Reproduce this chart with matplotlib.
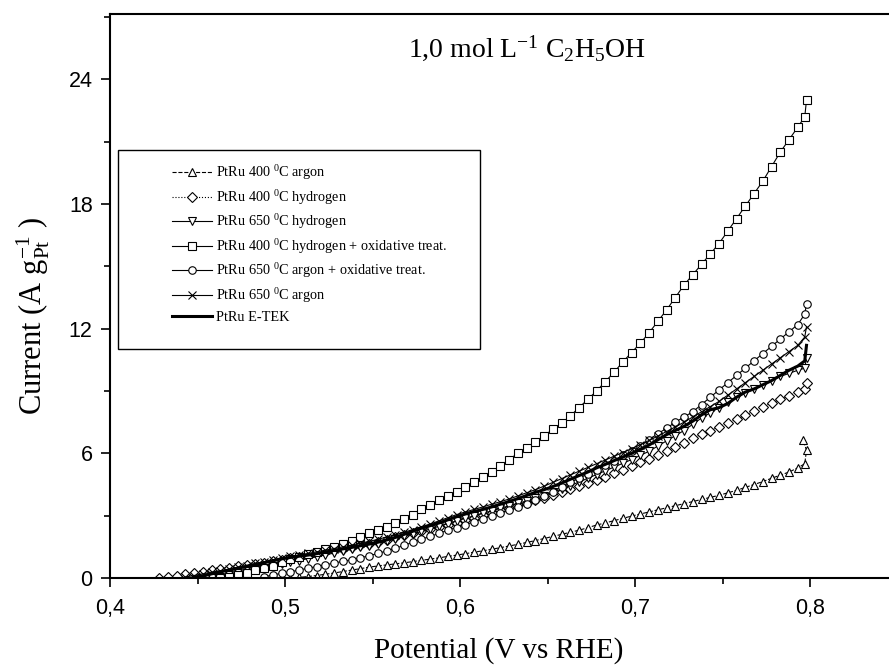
import numpy as np
import matplotlib
matplotlib.use('Agg')
import matplotlib.pyplot as plt
from matplotlib.patches import Rectangle
from matplotlib.ticker import MultipleLocator, FuncFormatter

nan = np.nan

# --- data (potential in V vs RHE, current in A/g_Pt) ---
# last three potentials are the end-of-scan points
potential = [
    0.428, 0.433, 0.438, 0.443, 0.448, 0.453, 0.458, 0.463, 0.468, 0.473,
    0.478, 0.483, 0.488, 0.493, 0.498, 0.503, 0.508, 0.513, 0.518, 0.523,
    0.528, 0.533, 0.538, 0.543, 0.548, 0.553, 0.558, 0.563, 0.568, 0.573,
    0.578, 0.583, 0.588, 0.593, 0.598, 0.603, 0.608, 0.613, 0.618, 0.623,
    0.628, 0.633, 0.638, 0.643, 0.648, 0.653, 0.658, 0.663, 0.668, 0.673,
    0.678, 0.683, 0.688, 0.693, 0.698, 0.703, 0.708, 0.713, 0.718, 0.723,
    0.728, 0.733, 0.738, 0.743, 0.748, 0.753, 0.758, 0.763, 0.768, 0.773,
    0.778, 0.783, 0.788, 0.793, 0.797, 0.798, 0.796]

i_400_argon = [
    nan, nan, nan, nan, nan, nan, nan, nan, nan, nan,
    nan, nan, nan, nan, nan, 0.0, 0.03, 0.07, 0.12, 0.18,
    0.24, 0.31, 0.38, 0.45, 0.52, 0.58, 0.63, 0.68, 0.73, 0.79,
    0.85, 0.91, 0.97, 1.04, 1.1, 1.17, 1.24, 1.31, 1.38, 1.46,
    1.54, 1.62, 1.71, 1.8, 1.9, 2.0, 2.1, 2.2, 2.3, 2.42,
    2.55, 2.65, 2.76, 2.87, 2.98, 3.08, 3.18, 3.28, 3.38, 3.48,
    3.58, 3.68, 3.78, 3.88, 3.98, 4.1, 4.22, 4.36, 4.5, 4.64,
    4.8, 4.95, 5.1, 5.3, 5.5, 6.15, 6.65]

i_400_hydrogen = [
    0.0, 0.05, 0.12, 0.18, 0.25, 0.31, 0.38, 0.44, 0.5, 0.56,
    0.62, 0.68, 0.74, 0.8, 0.87, 0.94, 1.02, 1.1, 1.18, 1.26,
    1.34, 1.42, 1.5, 1.58, 1.66, 1.75, 1.85, 1.95, 2.05, 2.15,
    2.25, 2.35, 2.45, 2.56, 2.67, 2.79, 2.91, 3.03, 3.15, 3.27,
    3.39, 3.51, 3.63, 3.75, 3.87, 4.0, 4.13, 4.27, 4.42, 4.57,
    4.72, 4.88, 5.04, 5.2, 5.38, 5.56, 5.74, 5.92, 6.12, 6.32,
    6.52, 6.72, 6.92, 7.1, 7.28, 7.46, 7.64, 7.84, 8.04, 8.24,
    8.42, 8.6, 8.78, 8.95, 9.1, 9.4, nan]

i_650_hydrogen = [
    nan, nan, nan, nan, nan, nan, 0.0, 0.07, 0.15, 0.23,
    0.32, 0.41, 0.5, 0.58, 0.67, 0.75, 0.84, 0.93, 1.02, 1.11,
    1.2, 1.29, 1.38, 1.47, 1.56, 1.66, 1.77, 1.88, 2.0, 2.12,
    2.24, 2.36, 2.49, 2.62, 2.75, 2.87, 2.99, 3.11, 3.23, 3.35,
    3.47, 3.59, 3.71, 3.84, 3.97, 4.12, 4.28, 4.45, 4.62, 4.8,
    4.98, 5.16, 5.34, 5.52, 5.7, 5.9, 6.1, 6.35, 6.6, 6.85,
    7.1, 7.4, 7.7, 7.95, 8.2, 8.45, 8.7, 8.9, 9.1, 9.3,
    9.5, 9.7, 9.85, 10.0, 10.1, 10.6, nan]

i_400_hydrogen_ox = [
    nan, nan, nan, nan, nan, nan, nan, 0.0, 0.05, 0.15,
    0.25, 0.4, 0.5, 0.6, 0.75, 0.9, 1.0, 1.15, 1.25, 1.4,
    1.5, 1.65, 1.8, 1.95, 2.15, 2.3, 2.45, 2.65, 2.85, 3.05,
    3.3, 3.5, 3.75, 3.95, 4.15, 4.4, 4.6, 4.85, 5.1, 5.4,
    5.7, 6.0, 6.25, 6.55, 6.85, 7.15, 7.45, 7.8, 8.2, 8.6,
    9.0, 9.45, 9.9, 10.4, 10.85, 11.3, 11.8, 12.35, 12.9, 13.5,
    14.1, 14.6, 15.1, 15.6, 16.1, 16.7, 17.3, 17.9, 18.5, 19.1,
    19.8, 20.5, 21.1, 21.7, 22.2, 23.0, nan]

i_650_argon_ox = [
    nan, nan, nan, nan, nan, nan, nan, nan, nan, nan,
    nan, nan, 0.05, 0.15, 0.22, 0.3, 0.38, 0.47, 0.55, 0.63,
    0.72, 0.8, 0.88, 0.97, 1.07, 1.18, 1.3, 1.43, 1.57, 1.72,
    1.87, 2.0, 2.15, 2.3, 2.43, 2.57, 2.7, 2.85, 3.0, 3.12,
    3.25, 3.4, 3.55, 3.75, 3.95, 4.15, 4.4, 4.6, 4.8, 5.0,
    5.2, 5.45, 5.65, 5.9, 6.1, 6.35, 6.65, 6.95, 7.2, 7.5,
    7.75, 8.0, 8.35, 8.7, 9.05, 9.4, 9.75, 10.1, 10.45, 10.8,
    11.15, 11.5, 11.85, 12.2, 12.7, 13.2, nan]

i_650_argon = [
    nan, nan, nan, 0.05, 0.12, 0.2, 0.28, 0.35, 0.43, 0.52,
    0.6, 0.7, 0.78, 0.87, 0.96, 1.04, 1.11, 1.18, 1.26, 1.34,
    1.42, 1.5, 1.58, 1.67, 1.76, 1.86, 1.97, 2.08, 2.2, 2.33,
    2.47, 2.6, 2.75, 2.9, 3.05, 3.18, 3.3, 3.42, 3.55, 3.67,
    3.8, 3.95, 4.1, 4.25, 4.42, 4.6, 4.78, 4.96, 5.14, 5.32,
    5.5, 5.68, 5.86, 6.04, 6.22, 6.42, 6.62, 6.83, 7.05, 7.27,
    7.5, 7.75, 8.0, 8.25, 8.5, 8.8, 9.1, 9.4, 9.7, 10.0,
    10.3, 10.6, 10.9, 11.2, 11.6, 12.1, nan]

i_etek = [
    nan, nan, nan, nan, 0.03, 0.1, 0.2, 0.3, 0.38, 0.47,
    0.56, 0.65, 0.74, 0.83, 0.92, 0.99, 1.05, 1.1, 1.17, 1.25,
    1.33, 1.4, 1.47, 1.55, 1.63, 1.72, 1.83, 1.95, 2.1, 2.25,
    2.4, 2.52, 2.65, 2.8, 2.95, 3.08, 3.2, 3.3, 3.42, 3.55,
    3.68, 3.82, 3.97, 4.12, 4.25, 4.4, 4.57, 4.75, 4.93, 5.1,
    5.3, 5.47, 5.65, 5.82, 6.0, 6.2, 6.4, 6.65, 6.9, 7.1,
    7.3, 7.55, 7.85, 8.1, 8.2, 8.4, 8.7, 8.95, 9.1, 9.3,
    9.5, 9.75, 10.0, 10.2, 10.45, 11.2, nan]

labels = [
    'PtRu 400 $^{0}$C argon',
    'PtRu 400 $^{0}$C hydrogen',
    'PtRu 650 $^{0}$C hydrogen',
    'PtRu 400 $^{0}$C hydrogen + oxidative treat.',
    'PtRu 650 $^{0}$C argon + oxidative treat.',
    'PtRu 650 $^{0}$C argon',
    'PtRu E-TEK',
]

# --- fonts ---
plt.rcParams['font.family'] = 'Liberation Sans'
plt.rcParams['mathtext.fontset'] = 'custom'
plt.rcParams['mathtext.rm'] = 'Liberation Serif'
plt.rcParams['mathtext.it'] = 'Liberation Serif:italic'
plt.rcParams['mathtext.bf'] = 'Liberation Serif:bold'
SERIF = 'Liberation Serif'

fig = plt.figure(figsize=(8.89, 6.68), dpi=100)
ax = fig.add_axes([110 / 889, 90 / 668, 787.5 / 889, 564 / 668])

V = np.array(potential)
mk = dict(color='black', markerfacecolor='white', markeredgecolor='black',
          markeredgewidth=0.8, linewidth=0.8)

h1, = ax.plot(V, i_400_argon, marker='^', markersize=6, linestyle='--', **mk)
h2, = ax.plot(V, i_400_hydrogen, marker='D', markersize=4.6, linestyle=':', **mk)
h3, = ax.plot(V, i_650_hydrogen, marker='v', markersize=6, linestyle='-', **mk)
h4, = ax.plot(V, i_400_hydrogen_ox, marker='s', markersize=5.2, linestyle='-', **mk)
h5, = ax.plot(V, i_650_argon_ox, marker='o', markersize=5.4, linestyle='-', **mk)
h6, = ax.plot(V, i_650_argon, marker='x', markersize=5.5, linestyle='-', **mk)
h7, = ax.plot(V, i_etek, color='black', linewidth=2.2)

ax.set_xlim(0.4, 0.85)
ax.set_ylim(0, 27.15)
ax.xaxis.set_major_locator(MultipleLocator(0.1))
ax.xaxis.set_minor_locator(MultipleLocator(0.05))
ax.yaxis.set_major_locator(MultipleLocator(6))
ax.yaxis.set_minor_locator(MultipleLocator(3))
ax.xaxis.set_major_formatter(FuncFormatter(lambda v, p: f'{v:.1f}'.replace('.', ',')))
ax.yaxis.set_major_formatter(FuncFormatter(lambda v, p: f'{v:.0f}'))

for s in ax.spines.values():
    s.set_linewidth(1.5)
ax.tick_params(which='major', direction='out', length=6.5, width=1.2,
               labelsize=15.5)
ax.tick_params(axis='x', which='major', pad=8)
ax.tick_params(axis='y', which='major', pad=6)
ax.tick_params(which='minor', direction='out', length=4, width=1.2)

ax.set_xlabel('Potential (V vs RHE)', family=SERIF, fontsize=21, labelpad=13)
ax.xaxis.label.set_x(0.493)
ax.set_ylabel(r'Current (A g$_{\mathrm{Pt}}^{\mathrm{-1}}$ )', family=SERIF,
              fontsize=22, labelpad=12, y=0.465)

ax.text(0.53, 0.94, r'1,0 mol L$^{\mathrm{-1}}$ C$_{\mathrm{2}}$H$_{\mathrm{5}}$OH',
        transform=ax.transAxes, family=SERIF, fontsize=20,
        ha='center', va='center')

# legend box
box = Rectangle((118 / 889, 1 - 349 / 668), (480 - 118) / 889, (349 - 150) / 668,
                transform=fig.transFigure, facecolor='white', edgecolor='black',
                linewidth=1.0, zorder=5)
fig.add_artist(box)
leg = fig.legend([h1, h2, h3, h4, h5, h6, h7], labels,
                 loc='upper left', bbox_to_anchor=(172 / 889, 1 - 163 / 668),
                 frameon=False, prop={'family': SERIF, 'size': 10.3},
                 numpoints=1, handlelength=2.8, handletextpad=0.3,
                 labelspacing=0.4, borderpad=0, borderaxespad=0)
leg.set_zorder(6)

fig.savefig('out.png', dpi=100)
